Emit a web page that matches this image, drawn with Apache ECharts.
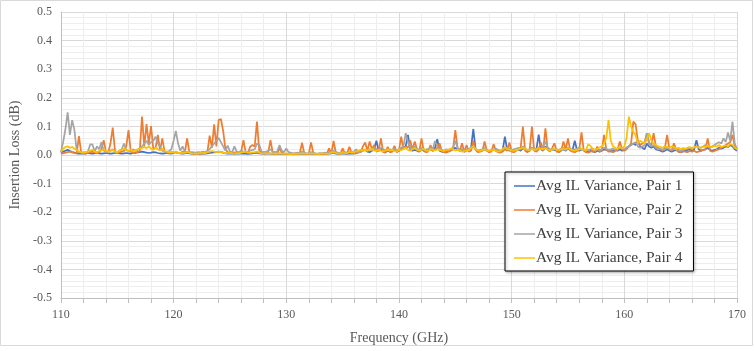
<!DOCTYPE html>
<html lang="en">
  <head>
    <meta charset="UTF-8" />
    <title>Avg IL Variance</title>
    <script src="https://cdn.jsdelivr.net/npm/echarts@6/dist/echarts.min.js"></script>
    <style>
      html, body { margin: 0; padding: 0; background: #fff; }
    </style>
  </head>
  <body>
    <div id="main" style="width: 755px; height: 351px"></div>
    <script type="text/javascript">
      // frequency grid: 110.0 .. 170.0 GHz in 0.2 GHz steps (301 points)
      var freqStart = 110;
      var freqStep = 0.2;

      var seriesNames = [
        "Avg IL Variance, Pair 1",
        "Avg IL Variance, Pair 2",
        "Avg IL Variance, Pair 3",
        "Avg IL Variance, Pair 4",
      ];

      // values in milli-dB
      var pair1 = [
        8,12,15,18,14,10,8,6,5,6, 5,6,7,6,5,6,7,6,5,6, 7,6,5,6,7,8,6,5,6,7, 6,5,7,8,9,10,12,10,8,7, 8,10,9,7,6,5,6,7,6,5,
        8,10,7,6,5,6,7,6,5,4, 5,4,5,6,5,6,7,8,9,10, 12,10,8,6,5,6,5,4,5,6, 5,6,5,4,5,6,7,8,6,5, 4,5,6,5,4,3,4,5,4,3,
        4,3,4,3,4,3,4,5,4,3, 4,5,4,3,4,3,4,5,4,5, 6,8,5,4,5,6,5,4,6,5, 6,8,10,12,15,18,12,10,15,20, 50,15,20,12,10,15,12,14,18,12,
        15,20,25,30,70,20,15,18,15,12, 20,15,12,18,20,15,25,55,15,12, 10,12,15,18,20,25,18,15,20,12, 15,20,25,91,20,12,15,18,20,15, 12,15,18,20,15,12,15,64,20,15,
        15,12,18,20,15,25,18,12,15,25, 18,20,71,20,15,30,18,15,20,18, 15,12,18,20,15,22,18,15,50,18, 15,20,18,12,10,15,12,10,15,12, 15,20,18,15,12,15,18,15,20,15,
        18,25,30,35,40,35,50,30,25,20, 40,30,25,30,20,18,15,12,15,20, 15,12,15,18,12,10,12,15,18,20, 15,20,52,20,15,18,20,25,18,15, 18,20,25,22,25,30,28,35,30,20,
        15,
      ];
      var pair2 = [
        5,6,8,10,12,9,7,6,66,8, 6,5,7,10,12,8,6,9,20,52, 10,8,40,96,15,7,9,12,14,30, 87,12,8,6,10,15,134,30,108,40, 101,20,25,70,15,58,12,8,6,10,
        8,10,7,6,12,9,58,10,6,5, 5,4,6,5,7,9,68,25,107,30, 122,126,84,20,10,7,6,9,8,6, 12,52,10,8,29,35,30,117,15,8, 6,5,9,52,7,5,4,25,8,6,
        5,4,3,4,5,3,6,43,5,4, 5,44,6,4,3,5,4,6,5,23, 6,49,8,5,4,23,6,5,29,7, 5,6,8,10,29,44,15,47,20,35, 12,15,58,10,8,29,9,12,32,10,
        15,64,20,30,25,52,18,47,20,12, 58,15,10,12,35,14,20,25,41,15, 10,8,12,15,20,87,25,15,41,10, 35,12,15,50,18,10,12,14,47,15, 10,12,38,14,10,8,12,20,15,44,
        12,10,15,20,25,99,15,10,18,99, 15,12,20,44,15,93,18,12,25,41, 12,10,15,47,20,58,15,12,10,14, 20,79,15,10,8,12,15,10,29,12, 15,70,20,12,15,10,14,18,47,20,
        15,20,30,40,117,107,50,35,40,45, 76,40,35,76,30,25,20,15,25,70, 20,15,41,18,12,10,15,12,10,14, 12,15,10,12,14,18,20,58,15,12, 14,18,20,25,30,35,40,45,70,30,
        20,
      ];
      var pair3 = [
        10,45,90,149,70,122,88,15,10,8, 9,10,12,37,37,12,30,20,45,15, 12,10,15,20,12,10,15,20,40,18, 15,12,20,15,18,25,30,40,50,35, 45,50,64,40,30,15,12,10,14,20,
        50,84,40,15,30,12,10,8,10,9, 8,10,9,12,10,15,20,30,40,50, 60,45,30,15,33,12,10,30,12,10, 15,12,10,12,15,18,20,40,37,12, 10,12,15,20,12,10,12,35,15,10,
        23,10,8,6,7,8,6,12,8,6, 7,10,8,6,5,7,6,8,6,10, 12,15,10,8,7,9,10,8,12,10, 12,20,10,12,15,18,14,20,15,25, 20,15,25,20,18,15,20,18,22,15,
        20,25,30,76,45,25,20,30,22,18, 25,20,18,22,25,20,49,30,20,18, 15,20,18,22,25,50,25,18,20,15, 18,20,22,30,20,15,18,20,25,18, 15,18,20,22,18,15,20,25,20,22,
        18,20,22,25,20,30,22,18,20,25, 20,22,25,20,30,47,25,20,18,22, 20,18,22,25,20,25,22,18,20,22, 25,20,18,15,18,20,22,18,20,18, 20,25,22,18,20,22,18,20,25,22,
        20,25,30,35,40,45,30,25,30,35, 76,45,30,35,25,20,22,18,20,25, 20,18,22,20,18,15,18,20,22,25, 20,25,30,28,25,30,35,30,25,30, 35,40,45,40,58,45,79,50,117,40,
        20,
      ];
      var pair4 = [
        10,22,28,30,25,28,22,18,12,10, 8,10,12,15,18,12,10,14,16,20, 15,12,14,18,12,10,15,18,22,16, 14,18,12,16,20,22,25,28,24,30, 22,18,25,20,16,22,14,12,10,8,
        10,12,8,6,8,7,10,8,6,5, 6,5,7,8,6,10,12,14,12,10, 12,10,8,6,7,8,6,5,7,6, 8,10,12,8,7,9,10,12,8,6, 5,6,7,5,6,4,5,6,5,4,
        5,4,3,4,5,4,5,6,5,4, 5,6,5,4,5,4,6,5,4,5, 8,10,7,5,6,8,7,6,10,8, 10,12,15,18,14,20,16,18,22,16, 14,18,15,12,16,20,15,18,14,12,
        20,16,22,25,18,15,20,24,18,16, 18,22,15,14,20,18,16,20,18,15, 14,16,18,22,20,16,18,15,12,14, 15,18,25,30,20,16,14,18,20,15, 14,16,18,15,12,14,20,28,22,18,
        16,14,18,20,22,26,20,18,16,22, 18,20,24,22,20,25,18,15,20,22, 18,16,20,22,18,24,20,16,15,18, 20,22,18,16,38,32,20,18,22,26, 30,40,60,122,50,30,25,22,28,24,
        30,60,134,100,80,70,40,50,45,40, 55,76,50,40,35,30,28,25,30,28, 25,30,28,22,25,20,24,22,25,28, 24,28,30,26,25,30,28,32,30,28, 32,30,35,28,30,34,30,38,35,25,
        20,
      ];

      var seriesValues = [pair1, pair2, pair3, pair4];
      var colors = ["#4472C4", "#ED7D31", "#A5A5A5", "#FFC000"];

      function toPoints(arr) {
        return arr.map(function (v, i) {
          return [+(freqStart + i * freqStep).toFixed(1), v / 1000];
        });
      }

      var serif = "Liberation Serif, Times New Roman, serif";

      var myChart = echarts.init(document.getElementById("main"));

      var option = {
        animation: false,
        color: colors,
        graphic: [
          {
            type: "rect",
            shape: { x: 0.5, y: 0.5, width: 752, height: 345 },
            style: { fill: "none", stroke: "#d9d9d9", lineWidth: 1 },
            z: -1,
          },
        ],
        grid: { left: 58, right: 18, top: 12, bottom: 53 },
        xAxis: {
          type: "value",
          min: 110,
          max: 170,
          interval: 10,
          name: "Frequency (GHz)",
          nameLocation: "middle",
          nameGap: 33,
          nameTextStyle: { fontFamily: serif, fontSize: 14, color: "#595959" },
          axisLine: { show: true, onZero: false, lineStyle: { color: "#bfbfbf" } },
          axisTick: { show: true, length: 5, lineStyle: { color: "#bfbfbf" } },
          minorTick: { show: true, splitNumber: 5, length: 5, lineStyle: { color: "#bfbfbf" } },
          axisLabel: { fontFamily: serif, fontSize: 12, color: "#595959", margin: 11 },
          splitLine: { show: true, lineStyle: { color: "#d9d9d9" } },
          minorSplitLine: { show: true, lineStyle: { color: "#eeeeee" } },
        },
        yAxis: {
          type: "value",
          min: -0.5,
          max: 0.5,
          interval: 0.1,
          name: "Insertion Loss (dB)",
          nameLocation: "middle",
          nameGap: 29,
          nameTextStyle: { fontFamily: serif, fontSize: 14, color: "#595959" },
          axisLine: { show: true, lineStyle: { color: "#bfbfbf" } },
          axisTick: { show: false },
          minorTick: { show: false, splitNumber: 5 },
          axisLabel: {
            fontFamily: serif,
            fontSize: 12,
            color: "#595959",
            margin: 9,
            formatter: function (v) {
              return Math.abs(v) < 1e-9 ? "0.0" : v.toFixed(1);
            },
          },
          splitLine: { show: true, lineStyle: { color: "#d9d9d9" } },
          minorSplitLine: { show: true, lineStyle: { color: "#eeeeee" } },
        },
        legend: {
          orient: "vertical",
          left: 505,
          top: 172,
          padding: [6, 11, 5, 9],
          itemGap: 8,
          itemWidth: 21,
          itemHeight: 1.5,
          icon: "rect",
          backgroundColor: "#fff",
          borderColor: "#000",
          borderWidth: 1,
          borderRadius: 0,
          shadowBlur: 3,
          shadowColor: "rgba(0,0,0,0.35)",
          shadowOffsetX: 1,
          shadowOffsetY: 1,
          textStyle: {
            fontFamily: serif,
            fontSize: 15.5,
            lineHeight: 15,
            color: "#404040",
            padding: [0, 0, 0, -4],
          },
          data: seriesNames,
        },
        series: seriesNames.map(function (name, k) {
          return {
            name: name,
            type: "line",
            symbol: "none",
            data: toPoints(seriesValues[k]),
            lineStyle: { width: 1.75, color: colors[k] },
            itemStyle: { color: colors[k] },
          };
        }),
      };
      myChart.setOption(option);
    </script>
  </body>
</html>
